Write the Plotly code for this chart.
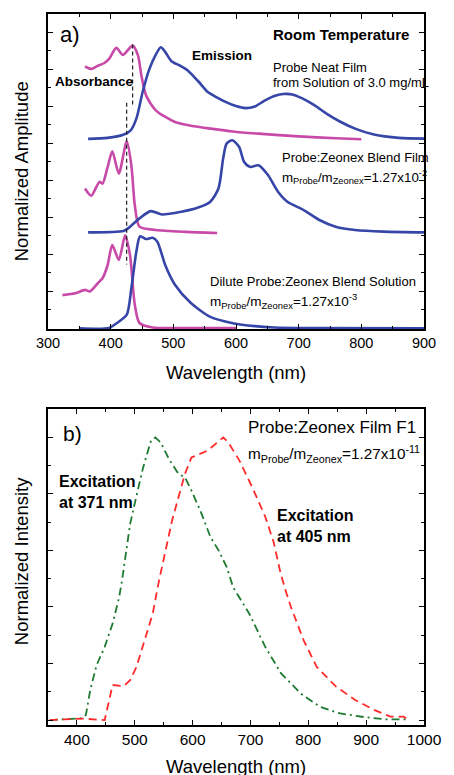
import plotly.graph_objects as go

# ---------------- Panel a) data (stacked, in axis units) ----------------
neat_abs_wl = [359, 369, 379.5, 390, 397.5, 409, 419.5, 435, 443.7, 449, 456.5, 472, 502.6, 533, 560, 595, 636, 700, 760, 800]
neat_abs_y = [14.16, 14.03, 14.2, 14.35, 14.57, 15.17, 14.79, 15.29, 14.75, 13.67, 12.6, 11.79, 11.16, 10.93, 10.8, 10.65, 10.53, 10.38, 10.28, 10.23]

neat_em_wl = [364, 395, 420, 432, 441, 451, 461, 472, 480, 487, 497, 510, 523, 540, 555, 570, 585, 600, 615, 630, 645, 660, 675, 690, 705, 725, 745, 765, 790, 820, 860, 900]
neat_em_y = [10.25, 10.3, 10.47, 10.71, 11.34, 12.78, 13.95, 14.8, 15.2, 14.95, 14.45, 14.22, 13.95, 13.35, 12.78, 12.48, 12.22, 12.02, 11.91, 12.0, 12.3, 12.55, 12.67, 12.65, 12.45, 12.07, 11.6, 11.2, 10.8, 10.48, 10.3, 10.26]

blend_abs_wl = [359, 369, 382, 387, 395, 402.6, 413, 425.7, 433, 438.5, 446, 472, 520, 570]
blend_abs_y = [7.56, 7.17, 7.92, 7.83, 8.7, 9.58, 8.37, 10.12, 8.82, 6.67, 5.5, 5.32, 5.22, 5.16]

blend_em_wl = [364, 420.6, 428, 446, 464, 482, 513, 538.5, 559, 572, 579.5, 585, 594, 605, 613, 623, 636, 651, 667, 682, 708, 733, 759, 790, 836, 900]
blend_em_y = [5.19, 5.27, 5.41, 5.95, 6.34, 6.16, 6.31, 6.52, 6.85, 7.56, 9.18, 9.99, 10.17, 9.81, 9.0, 8.73, 8.82, 8.29, 7.39, 6.85, 6.4, 5.86, 5.5, 5.32, 5.23, 5.19]

dil_abs_wl = [323, 343.7, 359, 367, 379.5, 387, 395, 402.6, 413, 423, 430.8, 438.5, 446, 467, 520, 600]
dil_abs_y = [1.8, 1.9, 2.08, 2.0, 2.44, 2.71, 3.4, 4.51, 3.7, 5.03, 3.97, 1.28, 0.29, 0.05, 0.02, 0.02]

dil_em_wl = [350, 397.5, 410, 425.7, 433, 441, 447, 456.5, 466.8, 474.5, 487, 502.6, 528, 559, 595, 630, 661, 720, 900]
dil_em_y = [0, 0.02, 0.29, 0.74, 2.17, 4.15, 4.98, 4.83, 4.9, 4.69, 3.43, 2.36, 1.37, 0.62, 0.28, 0.12, 0.05, 0.02, 0.0]

# guide lines (vertical dashed): wavelength, y from, y to
guide_wl = [435, 425.5]
guide_y0 = [15.35, 12.2]
guide_y1 = [12.1, 3.45]

# ---------------- Panel b) data ----------------
exc371_wl = [353, 409, 415.5, 423, 434, 448, 461.7, 473, 478, 492, 503, 514.5, 528, 535.5, 545, 559, 575.5, 586.7, 598, 614.5, 631, 645, 659, 670, 698, 725.5, 753, 786.7, 820, 853, 898, 936.7, 973]
exc371_y = [0, 0.006, 0.018, 0.106, 0.194, 0.259, 0.341, 0.435, 0.494, 0.694, 0.794, 0.894, 0.988, 1.0, 0.982, 0.924, 0.871, 0.859, 0.812, 0.735, 0.647, 0.6, 0.541, 0.47, 0.376, 0.259, 0.165, 0.094, 0.047, 0.024, 0.01, 0.002, 0.002]

exc405_wl = [353, 409, 448, 453, 461.7, 481, 492, 503, 517, 531, 542, 564.5, 586.7, 598, 625.5, 648, 653, 661.7, 681, 703, 725.5, 740, 752, 762, 770, 792, 814.5, 848, 881, 914.5, 942, 964.5, 973]
exc405_y = [0, 0.005, 0, 0.047, 0.124, 0.12, 0.141, 0.188, 0.282, 0.376, 0.494, 0.706, 0.871, 0.929, 0.953, 0.994, 1.0, 0.982, 0.918, 0.824, 0.72, 0.63, 0.52, 0.45, 0.4, 0.282, 0.188, 0.118, 0.071, 0.035, 0.012, 0.012, 0.002]

BLUE = "#3646a8"
MAG = "#c84aa8"
GREEN = "#1e7a30"
RED = "#ff2a2a"
FONT = "Liberation Sans, Arial, sans-serif"

fig = go.Figure()

def add(x, y, color, xa, ya, width=2.6, dash="solid", shape="spline"):
    fig.add_trace(go.Scatter(x=x, y=y, mode="lines", xaxis=xa, yaxis=ya,
                             line=dict(color=color, width=width, dash=dash, shape=shape, smoothing=0.7),
                             showlegend=False, hoverinfo="skip"))

add(neat_abs_wl, neat_abs_y, MAG, "x", "y")
add(neat_em_wl, neat_em_y, BLUE, "x", "y")
add(blend_abs_wl, blend_abs_y, MAG, "x", "y")
add(blend_em_wl, blend_em_y, BLUE, "x", "y")
add(dil_abs_wl, dil_abs_y, MAG, "x", "y")
add(dil_em_wl, dil_em_y, BLUE, "x", "y")
for w, a, b in zip(guide_wl, guide_y0, guide_y1):
    add([w, w], [a, b], "#222222", "x", "y", width=1.2, dash="4px,3px", shape="linear")

add(exc371_wl, exc371_y, GREEN, "x2", "y2", width=1.8, dash="8px,4px,2px,4px", shape="linear")
add(exc405_wl, exc405_y, RED, "x2", "y2", width=1.8, dash="8px,5px", shape="linear")

axis_common = dict(showline=True, linecolor="black", linewidth=1.5, mirror="ticks",
                   ticks="inside", ticklen=5, tickwidth=1.2, tickcolor="black",
                   showgrid=False, zeroline=False)

fig.update_layout(
    width=454, height=775,
    margin=dict(l=48, r=16, t=12, b=50),
    paper_bgcolor="white", plot_bgcolor="white",
    font=dict(family=FONT, color="black"),
    xaxis=dict(domain=[0, 1], anchor="y", range=[300, 900], tick0=300, dtick=100,
               minor=dict(ticks="inside", ticklen=3, dtick=50, tickcolor="black"),
               tickfont=dict(size=14.5), **axis_common),
    yaxis=dict(domain=[0.5568, 1.0], anchor="x", range=[-0.04, 17.0], tick0=0, dtick=2,
               minor=dict(ticks="inside", ticklen=3, dtick=1, tickcolor="black"),
               showticklabels=False, **axis_common),
    xaxis2=dict(domain=[0, 1], anchor="y2", range=[350, 1000], tick0=400, dtick=100,
                minor=dict(ticks="inside", ticklen=3, dtick=50, tickcolor="black"),
                tickfont=dict(size=15.5), **axis_common),
    yaxis2=dict(domain=[0, 0.4446], anchor="x2", range=[-0.0176, 1.101], tick0=0, dtick=0.2,
                minor=dict(ticks="inside", ticklen=3, dtick=0.1, tickcolor="black"),
                showticklabels=False, **axis_common),
)

ann = []
def txt(x, y, s, size, xref="x", yref="y", bold=False, xanchor="left", angle=0, align="left"):
    if bold:
        s = "<b>" + s.replace("<br>", "</b><br><b>") + "</b>"
    ann.append(dict(x=x, y=y, xref=xref, yref=yref, text=s, showarrow=False,
                    xanchor=xanchor, yanchor="middle", textangle=angle, align=align,
                    font=dict(size=size, family=FONT, color="black")))

M = "m<sub>Probe</sub>/m<sub>Zeonex</sub>=1.27x10<sup>%s</sup>"
# panel a
txt(316, 15.9, "a)", 22)
txt(656, 15.9, "Room Temperature", 15, bold=True)
txt(526, 14.77, "Emission", 13.5, bold=True)
txt(308, 13.37, "Absorbance", 13.5, bold=True)
txt(656, 14.12, "Probe Neat Film", 13)
txt(656, 13.32, "from Solution of 3.0 mg/mL", 13)
txt(671, 9.22, "Probe:Zeonex Blend Film", 13)
txt(671, 8.2, M % "-2", 13.3)
txt(555, 2.53, "Dilute Probe:Zeonex Blend Solution", 13)
txt(555, 1.5, M % "-3", 13.5)
# panel b
txt(373, 1.013, "b)", 21, xref="x2", yref="y2")
txt(692, 1.034, "Probe:Zeonex Film F1", 17, xref="x2", yref="y2")
txt(692, 0.94, M % "-11", 15.3, xref="x2", yref="y2")
txt(365, 0.808, "Excitation<br>at 371 nm", 16, xref="x2", yref="y2", bold=True)
txt(743, 0.687, "Excitation<br>at 405 nm", 16, xref="x2", yref="y2", bold=True)
# axis titles
txt(-0.07, (1 + 0.5568) / 2, "Normalized Amplitude", 18.5, xref="paper", yref="paper", xanchor="center", angle=-90)
txt(0.5, 0.4951, "Wavelength (nm)", 18.5, xref="paper", yref="paper", xanchor="center")
txt(-0.07, 0.23, "Normalized Intensity", 18.5, xref="paper", yref="paper", xanchor="center", angle=-90)
txt(0.5, -0.0589, "Wavelength (nm)", 18.5, xref="paper", yref="paper", xanchor="center")
fig.update_layout(annotations=ann)

fig.write_html("out.html")
